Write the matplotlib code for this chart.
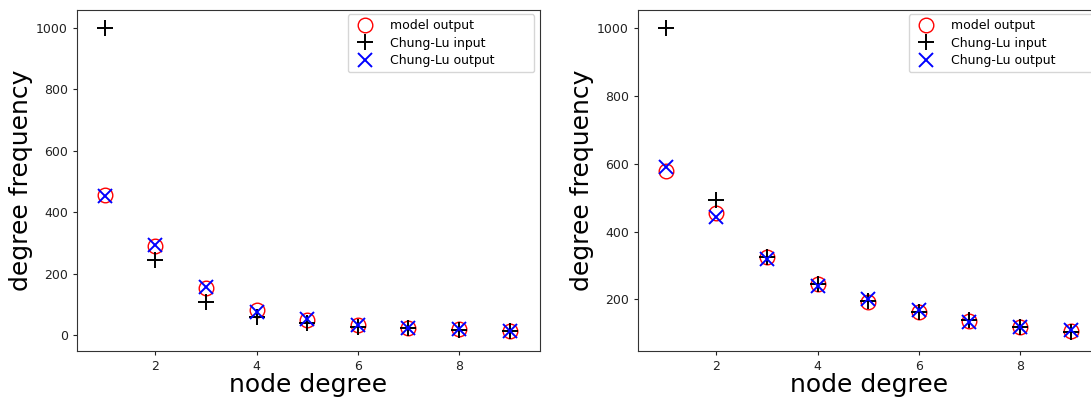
import matplotlib
matplotlib.use("Agg")
import matplotlib.pyplot as plt

plt.rcParams['font.family'] = ['DejaVu Sans']

degrees = [1, 2, 3, 4, 5, 6, 7, 8, 9]

# left panel
left_model = [456, 290, 152, 80, 50, 32, 22, 18, 13]
left_cl_input = [1000, 244, 106, 60, 38, 27, 22, 16, 13]
left_cl_output = [454, 293, 157, 76, 53, 32, 22, 18, 14]

# right panel
right_model = [578, 455, 326, 244, 193, 162, 137, 119, 107]
right_cl_input = [1000, 493, 326, 244, 195, 164, 139, 119, 105]
right_cl_output = [591, 442, 318, 240, 201, 169, 134, 119, 110]

fig = plt.figure(figsize=(10.91, 4), dpi=100)
ax1 = fig.add_axes([77 / 1091, 49 / 400, 463 / 1091, 341 / 400])
ax2 = fig.add_axes([638 / 1091, 49 / 400, 463 / 1091, 341 / 400])


def draw(ax, model, cl_in, cl_out, ylim):
    ax.plot(degrees, model, 'o', ms=10.5, mfc='none', mec='red', mew=1.0, label='model output')
    ax.plot(degrees, cl_in, '+', ms=11, color='black', mew=1.4, label='Chung-Lu input')
    ax.plot(degrees, cl_out, 'x', ms=10.5, color='blue', mew=1.4, label='Chung-Lu output')
    ax.set_xlim(0.45, 9.6)
    ax.set_ylim(*ylim)
    ax.set_xticks([2, 4, 6, 8])
    ax.set_xlabel('node degree', fontsize=18, labelpad=0)
    ax.set_ylabel('degree frequency', fontsize=18, labelpad=2)
    ax.tick_params(labelsize=9, colors='#222222', length=3)
    for s in ax.spines.values():
        s.set_color('#333333')
    # legend box is wider than its text in the original
    leg = ax.legend(loc='upper right', bbox_to_anchor=(0.585, 0.5, 0.403, 0.487),
                    mode='expand', borderaxespad=0, fontsize=9, frameon=True,
                    fancybox=True, handletextpad=1.0, labelspacing=0.35)
    leg.get_frame().set_edgecolor('#cccccc')


draw(ax1, left_model, left_cl_input, left_cl_output, (-52, 1058))
draw(ax2, right_model, right_cl_input, right_cl_output, (48, 1053))

fig.savefig('out.png', dpi=100)
